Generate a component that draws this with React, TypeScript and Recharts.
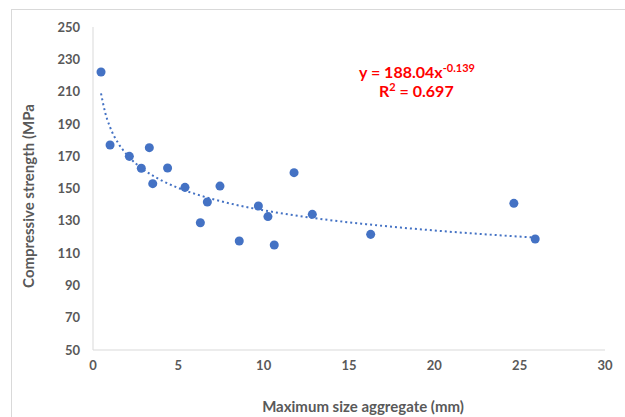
import { ComposedChart, Scatter, Line, XAxis, YAxis } from 'recharts'

// measured points: maximum aggregate size (mm) vs compressive strength (MPa)
const sizeMm = [0.47, 1.0, 2.13, 2.83, 3.3, 3.5, 4.37, 5.39, 6.29, 6.7, 7.44, 8.57, 9.69, 10.25, 10.62, 11.78, 12.85, 16.27, 24.66, 25.91]
const strength = [222.1, 176.9, 169.9, 162.5, 175.3, 153, 162.7, 150.7, 128.8, 141.6, 151.5, 117.5, 139.2, 132.6, 115, 159.8, 134, 121.6, 140.8, 118.7]

// power trendline as drawn (y = 188.04x^-0.139)
const trendX = [0.47, 0.7, 1, 1.5, 2, 3, 4, 5, 6, 8, 10, 13, 16, 20, 25.91]
const trendY = [208.9, 197.6, 188.0, 177.7, 170.8, 161.4, 155.1, 150.3, 146.6, 140.8, 136.5, 131.6, 127.9, 124.0, 119.6]

const xTicks = [0, 5, 10, 15, 20, 25, 30]
const yTicks = [50, 70, 90, 110, 130, 150, 170, 190, 210, 230, 250]

const points = sizeMm.map((x, i) => ({ x, y: strength[i] }))
const trend = trendX.map((x, i) => ({ x, y: trendY[i] }))

const font = 'Lato, "Open Sans", sans-serif'
const grey = '#595959'
const blue = '#4472C4'

export default function App() {
  return (
    <div style={{ position: 'absolute', left: 0, top: 0, width: 625, height: 417, overflow: 'hidden', background: '#fff', fontFamily: font }}>
      <div style={{ position: 'absolute', left: 11, top: 9, width: 700, height: 500, border: '1px solid #d9d9d9' }} />
      <ComposedChart
        width={625}
        height={417}
        margin={{ top: 27, right: 20, bottom: 0, left: 0 }}
        style={{ position: 'absolute', left: 0, top: 0 }}
      >
        <XAxis
          dataKey="x"
          type="number"
          domain={[0, 30]}
          ticks={xTicks}
          axisLine={{ stroke: '#d9d9d9' }}
          tickLine={false}
          tickSize={0}
          tickMargin={11}
          tick={{ fill: grey, fontSize: 13, fontWeight: 700, fontFamily: font }}
          height={67}
        />
        <YAxis
          dataKey="y"
          type="number"
          domain={[50, 250]}
          ticks={yTicks}
          width={93}
          axisLine={{ stroke: '#d9d9d9' }}
          tickLine={false}
          tickSize={0}
          tickMargin={13}
          tick={{ fill: grey, fontSize: 13, fontWeight: 700, fontFamily: font }}
        />
        <Line
          data={trend}
          dataKey="y"
          type="monotone"
          stroke={blue}
          strokeWidth={2}
          strokeDasharray="2 3"
          dot={false}
          activeDot={false}
          isAnimationActive={false}
        />
        <Scatter data={points} dataKey="y" fill={blue} shape="circle" isAnimationActive={false} />
        <text x={28} y={196} transform="rotate(-90 28 196)" textAnchor="middle" dominantBaseline="central" fill={grey} fontSize={15} fontWeight={700} fontFamily={font}>
          Compressive strength (MPa
        </text>
        <text x={363} y={406} textAnchor="middle" dominantBaseline="central" fill={grey} fontSize={15} fontWeight={700} fontFamily={font}>
          Maximum size aggregate (mm)
        </text>
        <text x={359} y={78} fill="#ff0000" fontSize={16} fontWeight={700} fontFamily={font}>
          y = 188.04x<tspan dy={-6} fontSize={11}>-0.139</tspan>
        </text>
        <text x={379} y={97} fill="#ff0000" fontSize={16} fontWeight={700} fontFamily={font}>
          R<tspan dy={-6} fontSize={11}>2</tspan><tspan dy={6}> = 0.697</tspan>
        </text>
      </ComposedChart>
    </div>
  )
}
